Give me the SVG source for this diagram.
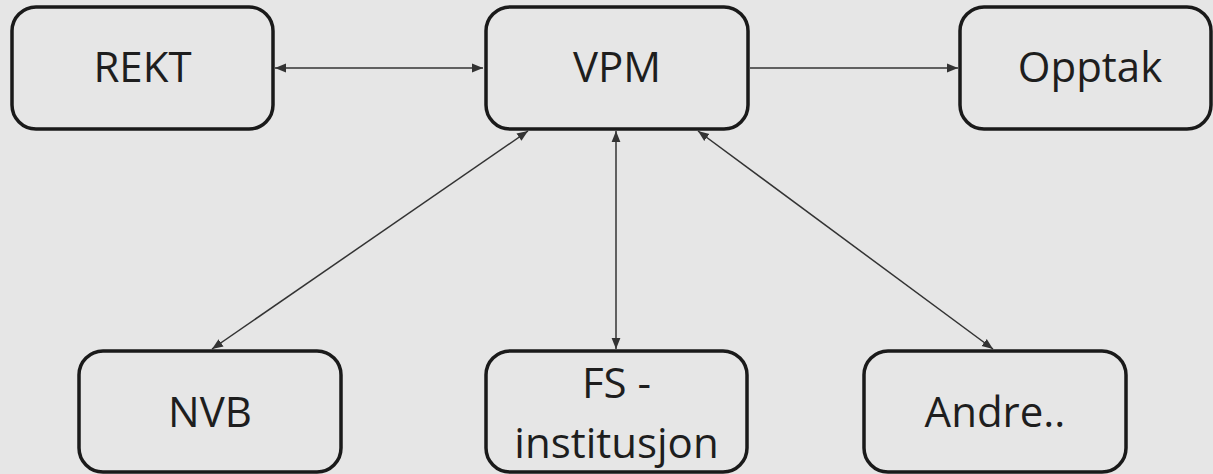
<svg xmlns="http://www.w3.org/2000/svg" width="1213" height="474" viewBox="0 0 1213 474">
<style>
.box{fill:#e6e6e6;stroke:#1a1a1a;stroke-width:3.5}
.lbl{font-family:"Open Sans",sans-serif;font-size:42px;fill:#1e1e1e;text-anchor:middle}
.edge{stroke:#333;stroke-width:1.5;fill:none}
</style>
<defs>
<marker id="ah" viewBox="0 0 10 10" refX="10" refY="5" markerWidth="11" markerHeight="11" markerUnits="userSpaceOnUse" orient="auto-start-reverse">
<path d="M0,1 L10,5 L0,9 Z" fill="#333"/>
</marker>
</defs>
<rect width="1213" height="474" fill="#e6e6e6"/>
<g id="connectors">
<line class="edge" x1="275" y1="68" x2="483" y2="68" marker-start="url(#ah)" marker-end="url(#ah)"/>
<line class="edge" x1="750" y1="68" x2="958" y2="68" marker-end="url(#ah)"/>
<line class="edge" x1="528" y1="131" x2="212" y2="349" marker-start="url(#ah)" marker-end="url(#ah)"/>
<line class="edge" x1="616" y1="131" x2="616" y2="349" marker-start="url(#ah)" marker-end="url(#ah)"/>
<line class="edge" x1="698" y1="131" x2="993" y2="349" marker-start="url(#ah)" marker-end="url(#ah)"/>
</g>
<g id="REKT"><rect class="box" x="12" y="7" width="261" height="122" rx="24"/><text class="lbl" x="142.5" y="82">REKT</text></g>
<g id="VPM"><rect class="box" x="486" y="7" width="262" height="122" rx="24"/><text class="lbl" x="617" y="82">VPM</text></g>
<g id="Opptak"><rect class="box" x="960" y="7" width="251" height="122" rx="24"/><text class="lbl" x="1090" y="82">Opptak</text></g>
<g id="NVB"><rect class="box" x="79" y="351" width="262" height="121" rx="24"/><text class="lbl" x="210" y="427">NVB</text></g>
<g id="FS"><rect class="box" x="486" y="351" width="261" height="121" rx="24"/><text class="lbl" x="616.5" y="398">FS -</text><text class="lbl" x="616.5" y="458">institusjon</text></g>
<g id="Andre"><rect class="box" x="864" y="351" width="262" height="121" rx="24"/><text class="lbl" x="995" y="427">Andre..</text></g>
</svg>
